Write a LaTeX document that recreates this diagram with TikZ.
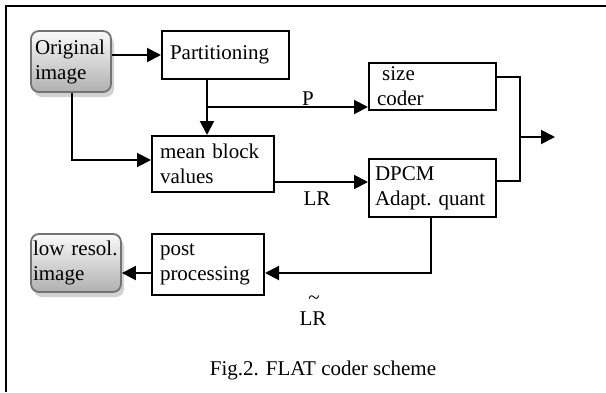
\documentclass[tikz,border=0pt]{standalone}
\usepackage{fontspec}
\setmainfont{Liberation Serif}
\usetikzlibrary{arrows.meta,shadows,calc}

\tikzset{
  blk/.style={draw, line width=1pt, inner xsep=4pt, inner ysep=0pt, align=left},
  img/.style={draw=black!55, line width=.9pt, rounded corners=4pt,
    top color=gray!4, bottom color=gray!62, inner ysep=0pt, align=left,
    drop shadow={shadow xshift=1.5pt, shadow yshift=-2.5pt, fill=gray!35, opacity=1}},
  arr/.style={-{Triangle[length=7pt,width=7pt]}, line width=1pt},
  lbl/.style={inner sep=0pt}
}

\begin{document}
\begin{tikzpicture}[x=0.5pt, y=-0.5pt, font=\fontsize{10.5}{12.5}\selectfont]
\useasboundingbox (0,0) rectangle (606,392);
\draw[line width=1pt] (6,392) -- (6,6) -- (606,6);

% blocks
\node[img, inner xsep=2pt, text width=36pt, minimum height=30.5pt] (orig) at (71,61.5) {Original\\image};
\node[blk, text width=55.5pt, minimum height=24pt] (part) at (225.5,55) {Partitioning};
\node[blk, text width=55.5pt, minimum height=23.5pt] (size) at (432.5,86.5) {\hspace*{2.6pt}size\\coder};
\node[blk, text width=53pt, minimum height=28pt] (mean) at (213,164) {mean block\\values};
\node[blk, inner xsep=3pt, text width=57.5pt, minimum height=29pt] (dpcm) at (432.5,188) {DPCM\\Adapt.~quant};
\node[blk, text width=48pt, minimum height=30.5pt] (post) at (208,264.5) {post\\processing};
\node[img, inner xsep=1pt, text width=43pt, minimum height=29pt] (low) at (76,263) {low~resol.\\image};

% branch points
\coordinate (pbr) at (207,107);
\coordinate (obr) at (72,160);
\coordinate (lrl) at (300,182);
\coordinate (join) at (520,137);
\coordinate (out) at (555,137);
\coordinate (back) at (431,273);

% connectors
\draw[arr] (orig.east |- part) -- (part.west);
\draw[arr] (pbr |- part.south) -- (pbr |- mean.north);
\draw[arr] (pbr) -- (pbr -| size.west);
\draw[arr] (obr |- orig.south) -- (obr) -- (obr -| mean.west);
\draw[arr] (mean.east |- lrl) -- (lrl -| dpcm.west);
\draw[line width=.6pt] ($(size.north east)+(0,15)$) -| (join) |- ($(dpcm.north east)+(0,23)$);
\draw[arr] (join) -- (out);
\draw[arr] (back |- dpcm.south) -- (back) -- (back -| post.east);
\draw[arr] (post.west |- back) -- (back -| low.east);

% labels
\node[lbl] (p) at (308,99) {P};
\node[lbl] (lr) at (317,199) {LR};
\node[lbl] (tl) at (314,300) {\textasciitilde};
\node[lbl] (lrt) at (313,319) {LR};
\node[lbl] (cap) at (323,370) {Fig.2. FLAT coder scheme};
\end{tikzpicture}
\end{document}
